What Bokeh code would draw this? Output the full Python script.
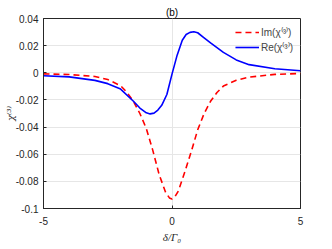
from bokeh.plotting import figure
from bokeh.models import FixedTicker, Range1d, Legend, LegendItem
from bokeh.embed import file_html
from bokeh.resources import INLINE

# Data
im_x = [-5, -4, -3, -2.5, -2, -1.75, -1.5, -1.25, -1, -0.75, -0.5, -0.25,
        -0.1, 0, 0.1, 0.25, 0.5, 0.75, 1, 1.25, 1.5, 1.75, 2, 2.5, 3, 4, 5]
im_y = [-0.0008, -0.0013, -0.0027, -0.005, -0.0095, -0.0145, -0.021, -0.030,
        -0.041, -0.057, -0.075, -0.088, -0.0922, -0.093, -0.0918, -0.087,
        -0.073, -0.058, -0.042, -0.030, -0.021, -0.0145, -0.0098, -0.0055,
        -0.0032, -0.0012, -0.0005]
re_x = [-5, -4, -3, -2.5, -2, -1.5, -1.25, -1, -0.85, -0.7, -0.55, -0.4,
        -0.2, 0, 0.2, 0.4, 0.55, 0.7, 0.85, 1.0, 1.2, 1.5, 2, 2.5, 3, 4, 5]
re_y = [-0.0022, -0.003, -0.0056, -0.008, -0.012, -0.021, -0.026, -0.0295,
        -0.0303, -0.0297, -0.0275, -0.024, -0.016, -0.001, 0.013, 0.024,
        0.0282, 0.0298, 0.0303, 0.0295, 0.0265, 0.022, 0.015, 0.0095, 0.006,
        0.003, 0.0015]

x_ticks = [-5, 0, 5]
x_tick_labels = ["-5", "0", "5"]
y_ticks = [-0.1, -0.08, -0.06, -0.04, -0.02, 0, 0.02, 0.04]
y_tick_labels = ["-0.1", "-0.08", "-0.06", "-0.04", "-0.02", "0", "0.02", "0.04"]

AX = "#262626"
TICKFONT = "Liberation Sans"
SUP3 = "\u207d\u00b3\u207e"

p = figure(width=324, height=245, output_backend="svg", toolbar_location=None,
           x_range=Range1d(-5, 5), y_range=Range1d(-0.1, 0.04),
           min_border_left=43, min_border_right=24, min_border_top=18,
           min_border_bottom=36)
p.title.text = "(b)"
p.title.align = "center"
p.title.text_font = TICKFONT
p.title.text_font_size = "10px"
p.title.text_font_style = "normal"
p.title.text_color = "#000000"
p.title.standoff = 1
p.title.offset = 0

p.background_fill_color = "white"
p.border_fill_color = "white"
p.outline_line_color = AX
p.outline_line_width = 1

p.xgrid.ticker = FixedTicker(ticks=x_ticks)
p.ygrid.ticker = FixedTicker(ticks=y_ticks)
p.xgrid.grid_line_color = "#e6e6e6"
p.ygrid.grid_line_color = "#e6e6e6"

def style_axis(ax, ticks, labels):
    ax.ticker = FixedTicker(ticks=ticks)
    ax.major_label_overrides = {t: l for t, l in zip(ticks, labels)}
    ax.axis_line_color = AX
    ax.major_tick_line_color = AX
    ax.major_tick_in = 3
    ax.major_tick_out = 0
    ax.minor_tick_line_color = None
    ax.major_label_text_font = TICKFONT
    ax.major_label_text_font_size = "10px"
    ax.major_label_text_color = AX

xa = p.xaxis[0]
ya = p.yaxis[0]
style_axis(xa, x_ticks, x_tick_labels)
style_axis(ya, y_ticks, y_tick_labels)
xa.major_label_standoff = 8
ya.major_label_standoff = 5

xa.axis_label = "\u03b4/\u0393\u2080"
xa.axis_label_text_font = "Liberation Serif"
xa.axis_label_text_font_style = "italic"
xa.axis_label_text_font_size = "11px"
xa.axis_label_standoff = 3
xa.axis_label_text_color = AX

ya.axis_label = "\u03c7" + SUP3
ya.axis_label_text_font = "DejaVu Serif"
ya.axis_label_text_font_style = "italic"
ya.axis_label_text_font_size = "10px"
ya.axis_label_standoff = -3
ya.axis_label_text_color = AX

r_im = p.line(im_x, im_y, line_color="#ff0000", line_width=1.6, line_dash="6 4")
r_re = p.line(re_x, re_y, line_color="#0000ff", line_width=1.6)

legend = Legend(items=[LegendItem(label="Im(\u03c7" + SUP3 + ")", renderers=[r_im]),
                       LegendItem(label="Re(\u03c7" + SUP3 + ")", renderers=[r_re])],
                location="top_right")
legend.border_line_color = None
legend.background_fill_alpha = 0
legend.label_text_font = TICKFONT
legend.label_text_font_size = "10px"
legend.glyph_width = 24
legend.glyph_height = 12
legend.label_standoff = 2
legend.spacing = 1
legend.padding = 2
legend.margin = 7
legend.label_height = 12
p.add_layout(legend)

open("out.html", "w").write(file_html(p, INLINE))
